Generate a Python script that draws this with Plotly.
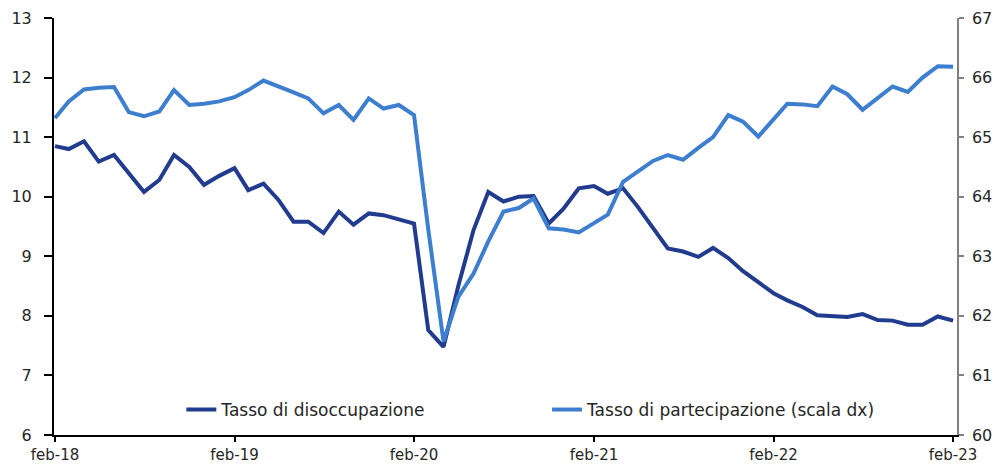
import pandas as pd
import plotly.graph_objects as go

# Monthly observations Feb-2018 .. Feb-2023
months = pd.date_range("2018-02-01", "2023-02-01", freq="MS")

disoccupazione = [
    10.85, 10.80, 10.93, 10.59, 10.70, 10.40, 10.08, 10.28, 10.70, 10.50, 10.20, 10.35,
    10.48, 10.11, 10.22, 9.95, 9.58, 9.58, 9.39, 9.75, 9.53, 9.72, 9.69, 9.62,
    9.55, 7.76, 7.48, 8.50, 9.44, 10.08, 9.92, 10.00, 10.01, 9.55, 9.80, 10.14,
    10.18, 10.05, 10.14, 9.83, 9.47, 9.13, 9.08, 8.99, 9.14, 8.97, 8.75, 8.57,
    8.38, 8.26, 8.15, 8.01, 7.99, 7.98, 8.03, 7.93, 7.92, 7.85, 7.85, 7.99,
    7.92,
]

partecipazione = [
    65.32, 65.60, 65.80, 65.83, 65.84, 65.42, 65.35, 65.43, 65.79, 65.54, 65.56, 65.60,
    65.67, 65.79, 65.95, 65.86, 65.75, 65.65, 65.40, 65.54, 65.29, 65.65, 65.48, 65.54,
    65.37, 63.45, 61.57, 62.32, 62.71, 63.25, 63.75, 63.81, 63.97, 63.47, 63.45, 63.40,
    63.55, 63.70, 64.25, 64.42, 64.60, 64.70, 64.62, 64.82, 65.00, 65.37, 65.26, 65.01,
    65.30, 65.56, 65.55, 65.52, 65.85, 65.72, 65.46, 65.65, 65.85, 65.76, 66.00, 66.19,
    66.18,
]

tick_dates = ["2018-02-01", "2019-02-01", "2020-02-01", "2021-02-01", "2022-02-01", "2023-02-01"]
tick_labels = ["feb-18", "feb-19", "feb-20", "feb-21", "feb-22", "feb-23"]
left_ticks = [6, 7, 8, 9, 10, 11, 12, 13]
right_ticks = [60, 61, 62, 63, 64, 65, 66, 67]

DARK = "#213B8E"
LIGHT = "#3D7ECF"
FONT = "DejaVu Sans"
TXT = "#262626"

fig = go.Figure()
fig.add_trace(go.Scatter(
    x=months, y=disoccupazione, mode="lines", name="Tasso di disoccupazione",
    line=dict(color=DARK, width=4), legend="legend", yaxis="y",
))
fig.add_trace(go.Scatter(
    x=months, y=partecipazione, mode="lines", name="Tasso di partecipazione (scala dx)",
    line=dict(color=LIGHT, width=4), legend="legend2", yaxis="y2",
))

fig.update_layout(
    width=997, height=456,
    margin=dict(l=46, r=48, t=10, b=29),
    paper_bgcolor="white", plot_bgcolor="white",
    font=dict(family=FONT, size=16, color=TXT),
    showlegend=True,
    legend=dict(x=0.141, y=0.06, xanchor="left", yanchor="middle", orientation="h",
                bgcolor="rgba(0,0,0,0)", font=dict(size=17, color=TXT)),
    legend2=dict(x=0.546, y=0.06, xanchor="left", yanchor="middle", orientation="h",
                 bgcolor="rgba(0,0,0,0)", font=dict(size=17, color=TXT)),
    xaxis=dict(
        type="date", range=["2018-01-30", "2023-02-09"], automargin=False,
        tickvals=tick_dates, ticktext=tick_labels, tickfont=dict(size=15),
        showline=True, linecolor="black", linewidth=2,
        ticks="outside", ticklen=5, tickwidth=2, tickcolor="black",
        showgrid=False, zeroline=False,
    ),
    yaxis=dict(
        range=[6, 13], tickvals=left_ticks, automargin=False, tickfont=dict(size=16),
        ticklabelstandoff=9,
        showline=True, linecolor="black", linewidth=2,
        ticks="outside", ticklen=8, tickwidth=2, tickcolor="black",
        showgrid=False, zeroline=False,
    ),
    yaxis2=dict(
        range=[60, 67], tickvals=right_ticks, overlaying="y", side="right",
        automargin=False, tickfont=dict(size=16), ticklabelstandoff=5,
        showline=True, linecolor="#808080", linewidth=1.5,
        ticks="outside", ticklen=5, tickwidth=1.5, tickcolor="#808080",
        showgrid=False, zeroline=False,
    ),
)

fig.write_html("out.html")
